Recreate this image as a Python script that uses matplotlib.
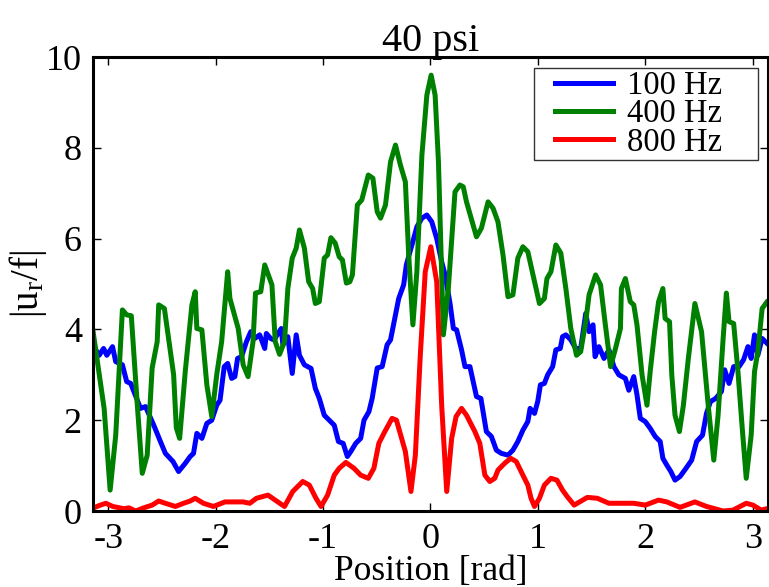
import numpy as np
import matplotlib
matplotlib.use("Agg")
import matplotlib.pyplot as plt
from matplotlib.legend_handler import HandlerLine2D
from matplotlib.lines import Line2D

# ---------------- data ----------------
x_100 = [-3.145, -3.084, -3.043, -3.013, -2.960, -2.930, -2.868, -2.828, -2.791, -2.699,
         -2.653, -2.576, -2.514, -2.468, -2.397, -2.345, -2.283, -2.237, -2.206, -2.175,
         -2.128, -2.082, -2.036, -1.990, -1.959, -1.920, -1.888, -1.851, -1.821, -1.796,
         -1.759, -1.713, -1.673, -1.636, -1.590, -1.543, -1.528, -1.488, -1.457, -1.389,
         -1.374, -1.328, -1.287, -1.250, -1.220, -1.174, -1.112, -1.072, -1.035, -0.989,
         -0.943, -0.896, -0.857, -0.813, -0.774, -0.742, -0.696, -0.650, -0.619, -0.573,
         -0.543, -0.496, -0.450, -0.404, -0.372, -0.326, -0.296, -0.250, -0.225, -0.173,
         -0.127, -0.080, -0.034, 0.012, 0.058, 0.104, 0.136, 0.182, 0.213, 0.243,
         0.289, 0.321, 0.367, 0.428, 0.469, 0.520, 0.567, 0.613, 0.659, 0.721,
         0.767, 0.813, 0.860, 0.906, 0.927, 0.968, 0.998, 1.023, 1.060, 1.091,
         1.137, 1.167, 1.208, 1.229, 1.260, 1.306, 1.352, 1.398, 1.445, 1.476,
         1.513, 1.532, 1.568, 1.615, 1.661, 1.707, 1.753, 1.814, 1.846, 1.892,
         1.922, 1.953, 1.999, 2.045, 2.092, 2.138, 2.163, 2.200, 2.237, 2.276,
         2.323, 2.378, 2.431, 2.477, 2.532, 2.569, 2.606, 2.655, 2.708, 2.738,
         2.779, 2.822, 2.872, 2.914, 2.955, 2.985, 3.016, 3.047, 3.087, 3.130]
y_100 = [3.66, 3.43, 3.58, 3.43, 3.62, 3.29, 3.22, 2.85, 2.81, 2.26,
         2.30, 1.89, 1.53, 1.27, 1.09, 0.87, 1.05, 1.20, 1.27, 1.71,
         1.60, 1.93, 2.00, 2.33, 2.44, 3.18, 3.25, 2.92, 2.96, 3.36,
         3.40, 3.73, 3.95, 3.80, 3.88, 3.58, 3.91, 3.80, 3.77, 4.02,
         3.66, 3.84, 3.03, 3.88, 3.43, 3.22, 3.14, 2.70, 2.48, 2.11,
         2.00, 1.89, 1.53, 1.49, 1.20, 1.31, 1.49, 1.60, 2.00, 2.19,
         2.48, 3.15, 3.18, 3.66, 3.77, 4.32, 4.68, 4.98, 5.42, 5.86,
         6.26, 6.45, 6.52, 6.37, 6.00, 5.49, 5.20, 4.57, 4.02, 3.99,
         3.55, 3.18, 3.18, 2.52, 2.48, 1.75, 1.64, 1.34, 1.27, 1.23,
         1.34, 1.53, 1.78, 1.97, 2.26, 2.15, 2.41, 2.78, 2.81, 3.00,
         3.18, 3.55, 3.58, 3.84, 3.88, 3.77, 3.58, 3.58, 4.35, 3.95,
         4.10, 3.40, 3.62, 3.36, 3.55, 3.18, 3.00, 2.92, 2.66, 2.96,
         2.56, 2.04, 1.97, 1.82, 1.64, 1.53, 1.16, 1.01, 0.87, 0.68,
         0.76, 0.94, 1.12, 1.53, 1.67, 2.15, 2.41, 2.48, 2.63, 3.11,
         2.81, 3.18, 3.18, 3.33, 3.62, 3.36, 3.88, 3.43, 3.80, 3.70]

x_400 = [-3.145, -3.038, -2.982, -2.930, -2.868, -2.828, -2.785, -2.729, -2.683, -2.637,
         -2.591, -2.544, -2.530, -2.477, -2.391, -2.366, -2.335, -2.283, -2.221, -2.190,
         -2.175, -2.128, -2.082, -2.036, -1.990, -1.944, -1.888, -1.867, -1.790, -1.744,
         -1.698, -1.652, -1.629, -1.580, -1.543, -1.476, -1.445, -1.405, -1.359, -1.328,
         -1.287, -1.250, -1.220, -1.174, -1.134, -1.097, -1.072, -1.035, -0.989, -0.958,
         -0.927, -0.887, -0.850, -0.820, -0.783, -0.751, -0.727, -0.681, -0.640, -0.579,
         -0.536, -0.496, -0.465, -0.419, -0.372, -0.326, -0.280, -0.234, -0.203, -0.164,
         -0.127, -0.080, -0.034, 0.006, 0.043, 0.074, 0.120, 0.166, 0.228, 0.274,
         0.305, 0.335, 0.428, 0.474, 0.536, 0.582, 0.628, 0.675, 0.721, 0.767,
         0.813, 0.860, 0.906, 0.968, 1.014, 1.060, 1.084, 1.121, 1.167, 1.213,
         1.260, 1.306, 1.359, 1.398, 1.445, 1.476, 1.537, 1.583, 1.624, 1.676,
         1.722, 1.768, 1.777, 1.814, 1.860, 1.892, 1.922, 1.969, 2.015, 2.045,
         2.086, 2.123, 2.163, 2.184, 2.225, 2.246, 2.276, 2.317, 2.354, 2.400,
         2.461, 2.523, 2.585, 2.637, 2.677, 2.724, 2.754, 2.779, 2.822, 2.862,
         2.902, 2.939, 2.985, 3.016, 3.047, 3.087, 3.130]
y_400 = [4.02, 2.26, 0.46, 1.67, 4.43, 4.32, 4.30, 2.33, 0.83, 1.23,
         3.15, 3.73, 4.54, 4.46, 3.00, 1.83, 1.60, 3.07, 4.54, 4.83,
         4.02, 3.99, 2.78, 2.08, 3.00, 3.73, 5.27, 4.68, 4.02, 3.22,
         2.96, 3.73, 4.80, 4.83, 5.42, 4.98, 3.73, 3.45, 3.73, 4.90,
         5.57, 5.79, 6.19, 5.79, 5.05, 4.90, 4.57, 4.61, 5.57, 5.64,
         6.02, 5.90, 5.60, 5.53, 5.02, 5.05, 5.20, 6.74, 6.85, 7.40,
         7.33, 6.59, 6.45, 6.74, 7.69, 8.06, 7.62, 7.25, 5.64, 4.10,
         5.27, 7.84, 9.16, 9.60, 9.16, 7.69, 3.88, 4.90, 7.03, 7.18,
         7.14, 6.81, 6.04, 6.23, 6.81, 6.67, 6.37, 5.64, 4.72, 4.76,
         5.57, 5.82, 5.71, 5.05, 4.57, 4.68, 5.12, 5.27, 5.86, 5.68,
         4.90, 4.02, 3.43, 3.51, 4.17, 4.76, 5.20, 4.98, 4.17, 3.18,
         3.58, 4.02, 4.90, 5.12, 4.61, 4.54, 4.10, 3.00, 2.33, 3.07,
         3.95, 4.61, 4.90, 4.24, 4.17, 3.00, 2.11, 1.75, 2.33, 3.36,
         4.57, 3.95, 2.33, 1.12, 2.11, 3.80, 4.80, 4.17, 4.13, 3.07,
         1.82, 0.72, 1.67, 3.07, 3.51, 4.46, 4.60]

x_800 = [-3.145, -3.084, -3.022, -2.957, -2.853, -2.807, -2.745, -2.668, -2.591, -2.530,
         -2.468, -2.375, -2.299, -2.237, -2.190, -2.114, -2.021, -1.913, -1.744, -1.682,
         -1.620, -1.513, -1.421, -1.359, -1.282, -1.189, -1.128, -1.066, -1.019, -0.958,
         -0.896, -0.850, -0.788, -0.712, -0.650, -0.579, -0.527, -0.481, -0.434, -0.358,
         -0.317, -0.234, -0.182, -0.141, -0.095, -0.049, 0.003, 0.058, 0.104, 0.151,
         0.197, 0.238, 0.289, 0.335, 0.413, 0.459, 0.506, 0.552, 0.598, 0.628,
         0.690, 0.746, 0.798, 0.860, 0.906, 0.936, 0.968, 1.014, 1.060, 1.121,
         1.177, 1.229, 1.275, 1.337, 1.460, 1.553, 1.661, 1.892, 1.999, 2.123,
         2.200, 2.323, 2.461, 2.569, 2.724, 2.816, 2.939, 3.001, 3.078, 3.130]
y_800 = [0.06, 0.12, 0.17, 0.10, 0.05, 0.07, 0.00, 0.07, 0.13, 0.22,
         0.17, 0.10, 0.17, 0.22, 0.28, 0.17, 0.10, 0.20, 0.20, 0.17,
         0.28, 0.35, 0.20, 0.10, 0.43, 0.65, 0.57, 0.28, 0.10, 0.35,
         0.79, 0.94, 1.07, 0.94, 0.79, 0.72, 0.94, 1.49, 1.71, 2.04,
         2.00, 1.31, 0.43, 1.23, 3.43, 5.27, 5.82, 5.05, 2.33, 0.43,
         1.60, 2.08, 2.26, 2.11, 1.75, 1.49, 0.79, 0.65, 0.72, 0.90,
         1.05, 1.16, 1.09, 0.79, 0.57, 0.28, 0.10, 0.28, 0.57, 0.72,
         0.68, 0.46, 0.31, 0.13, 0.30, 0.28, 0.17, 0.17, 0.13, 0.24,
         0.20, 0.08, 0.20, 0.10, 0.00, 0.02, 0.17, 0.13, 0.02, 0.05]

series_labels = ["100 Hz", "400 Hz", "800 Hz"]
series_colors = ["#0000ff", "#008000", "#ff0000"]
x_ticks = [-3, -2, -1, 0, 1, 2, 3]
y_ticks = [0, 2, 4, 6, 8, 10]
title_text = "40 psi"
xlabel_text = "Position [rad]"
ylabel_text = r"$\mathrm{|u_r/f|}$"

# ---------------- style ----------------
plt.rcParams["font.family"] = ["Liberation Serif", "DejaVu Serif"]
plt.rcParams["mathtext.fontset"] = "custom"
plt.rcParams["mathtext.rm"] = "Liberation Serif"
plt.rcParams["mathtext.it"] = "Liberation Serif:italic"
plt.rcParams["axes.unicode_minus"] = False

fig = plt.figure(figsize=(7.69, 5.87), dpi=100)
ax = fig.add_axes([93 / 769, 76 / 587, 675 / 769, 454 / 587])

for xs, ys, lab, col in zip([x_100, x_400, x_800], [y_100, y_400, y_800],
                            series_labels, series_colors):
    ax.plot(xs, ys, color=col, lw=3.6, label=lab, solid_joinstyle="round")

ax.set_xlim(-np.pi, np.pi)
ax.set_ylim(0, 10)
ax.set_xticks(x_ticks)
ax.set_yticks(y_ticks)
ax.tick_params(direction="in", length=6, width=1, top=True, right=True,
               labelsize=26)
ax.tick_params(axis="x", pad=9)
ax.tick_params(axis="y", pad=8)
for sp in ax.spines.values():
    sp.set_linewidth(2.2)

ax.set_title(title_text, fontsize=29, pad=4)
ax.set_xlabel(xlabel_text, fontsize=25.5, labelpad=-1)
ax.set_ylabel(ylabel_text, fontsize=28, labelpad=-2)

leg = ax.legend(loc="upper left", bbox_to_anchor=(0.6533, 0.0, 0.3319, 0.9758),
                mode="expand", fontsize=23.5, frameon=True, fancybox=False,
                handlelength=2.33, labelspacing=-0.07, borderpad=0.08,
                handletextpad=0.45, borderaxespad=0.0,
                handler_map={Line2D: HandlerLine2D(xpad=0.57)})
leg.get_frame().set_edgecolor("black")
leg.get_frame().set_linewidth(1.0)

fig.savefig("out.png", dpi=100)
